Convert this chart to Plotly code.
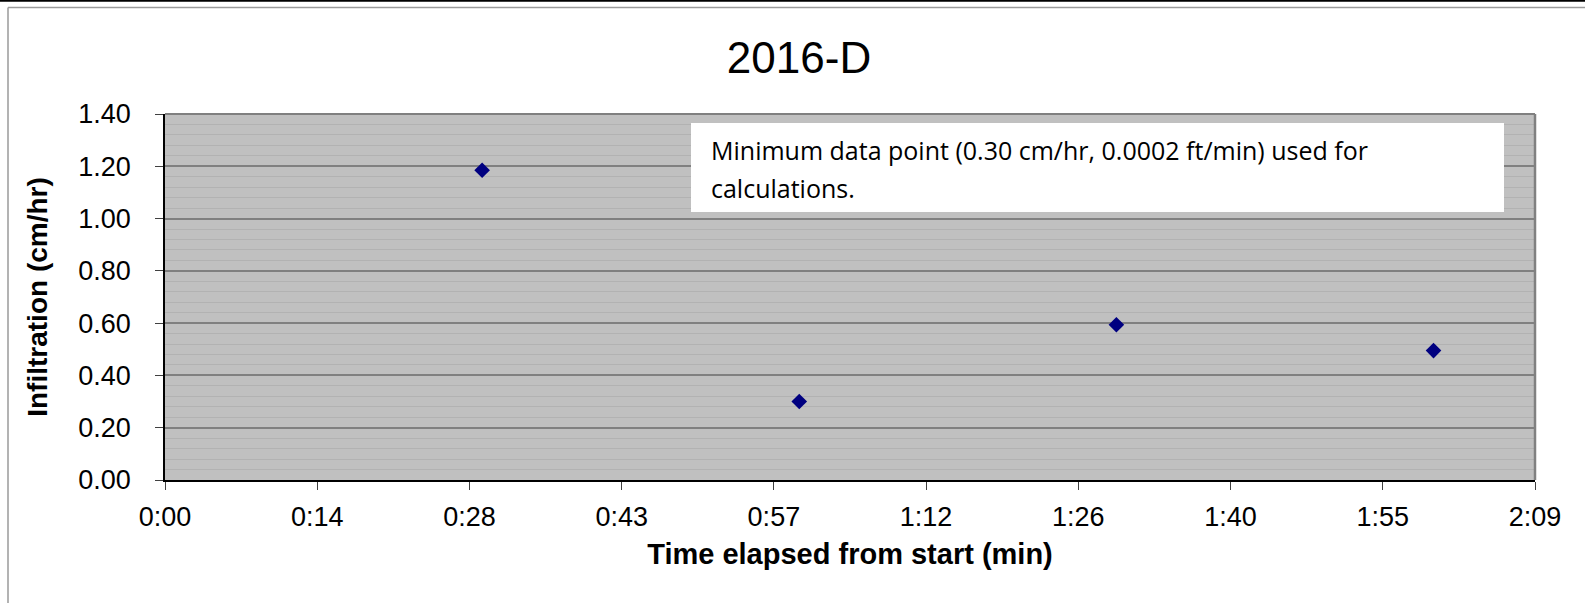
import plotly.graph_objects as go

# ---- data ----
time_min = [30, 60, 90, 120]            # elapsed minutes
infiltration = [1.185, 0.30, 0.594, 0.495]  # cm/hr
x_tick_labels = ["0:00", "0:14", "0:28", "0:43", "0:57", "1:12", "1:26", "1:40", "1:55", "2:09"]
x_tick_step = 14.4  # Excel 0.01-day major unit, in minutes
title_text = "2016-D"
x_title = "Time elapsed from start (min)"
y_title = "Infiltration (cm/hr)"
note_lines = ["Minimum data point (0.30 cm/hr, 0.0002 ft/min) used for", "calculations."]

W, H = 1585, 603
L, R, T, B = 165, 1535, 114, 480  # plot-area pixel edges


def px(x):
    return (x - L) / (R - L)


def py(y):
    return (B - y) / (B - T)


tickvals = [i * x_tick_step for i in range(len(x_tick_labels))]

fig = go.Figure()
fig.add_trace(go.Scatter(
    x=time_min, y=infiltration, mode="markers",
    marker=dict(symbol="diamond", size=12, color="#000080", line=dict(width=0)),
    showlegend=False, hoverinfo="x+y",
))

axis_font = dict(family="Liberation Sans, Arial, sans-serif", size=27, color="black")
xtitle_font = dict(family="Liberation Sans, Arial, sans-serif", size=29, color="black", weight="bold")
ytitle_font = dict(family="Liberation Sans, Arial, sans-serif", size=28, color="black", weight="bold")
note_font = dict(family="Open Sans, Lato, Calibri, sans-serif", size=25, color="black")

fig.update_layout(
    width=W, height=H,
    margin=dict(l=L, r=W - R, t=T, b=H - B),
    paper_bgcolor="white",
    plot_bgcolor="#c0c0c0",
    title=dict(text=title_text, x=799 / W, xanchor="center", y=1 - 58 / H, yanchor="middle",
               font=dict(family="Liberation Sans, Arial, sans-serif", size=44, color="black")),
    xaxis=dict(
        range=[0, tickvals[-1]], tickvals=tickvals, ticktext=x_tick_labels,
        showgrid=False, zeroline=False,
        showline=True, linecolor="black", linewidth=1.5,
        ticks="outside", ticklen=8, tickwidth=1, tickcolor="#404040",
        tickfont=axis_font, ticklabelstandoff=4,
        title=dict(text=x_title, font=xtitle_font, standoff=13),
    ),
    yaxis=dict(
        range=[0, 1.4], dtick=0.2, tickformat=".2f",
        showgrid=True, gridcolor="#808080", gridwidth=1.5,
        zeroline=False,
        showline=True, linecolor="black", linewidth=1.5,
        ticks="outside", ticklen=8, tickwidth=1, tickcolor="#404040",
        tickfont=axis_font, ticklabelstandoff=19,
        minor=dict(dtick=0.04, showgrid=True, gridcolor="#b2b2b2", gridwidth=1, ticks=""),
        title=dict(text=y_title, font=ytitle_font, standoff=22),
    ),
    shapes=[
        # top black rule of the page
        dict(type="line", xref="paper", yref="paper", x0=px(0), x1=px(W), y0=py(0.9), y1=py(0.9),
             line=dict(color="black", width=1.8)),
        # outer chart border (gray), top and left visible
        dict(type="line", xref="paper", yref="paper", x0=px(8), x1=px(W), y0=py(7.5), y1=py(7.5),
             line=dict(color="#9a9a9a", width=1.5)),
        dict(type="line", xref="paper", yref="paper", x0=px(8), x1=px(8), y0=py(7.5), y1=py(H),
             line=dict(color="#9a9a9a", width=1.5)),
        # plot area top and right border
        dict(type="line", xref="paper", yref="paper", x0=0, x1=1, y0=1, y1=1,
             line=dict(color="#808080", width=2)),
        dict(type="line", xref="paper", yref="paper", x0=1, x1=1, y0=0, y1=1,
             line=dict(color="#808080", width=2.5)),
        # note box
        dict(type="rect", xref="paper", yref="paper", x0=px(691), x1=px(1504), y0=py(212), y1=py(123),
             fillcolor="white", line=dict(width=0), layer="above"),
    ],
    annotations=[
        dict(text=note_lines[0], xref="paper", yref="paper", x=px(709), y=py(150),
             xanchor="left", yanchor="middle", align="left", showarrow=False, font=note_font),
        dict(text=note_lines[1], xref="paper", yref="paper", x=px(709), y=py(188),
             xanchor="left", yanchor="middle", align="left", showarrow=False, font=note_font),
    ],
)

fig.write_html(
    "out.html",
    config={"displayModeBar": False},
    post_script="document.body.style.margin='0';document.body.style.overflow='hidden';",
)
